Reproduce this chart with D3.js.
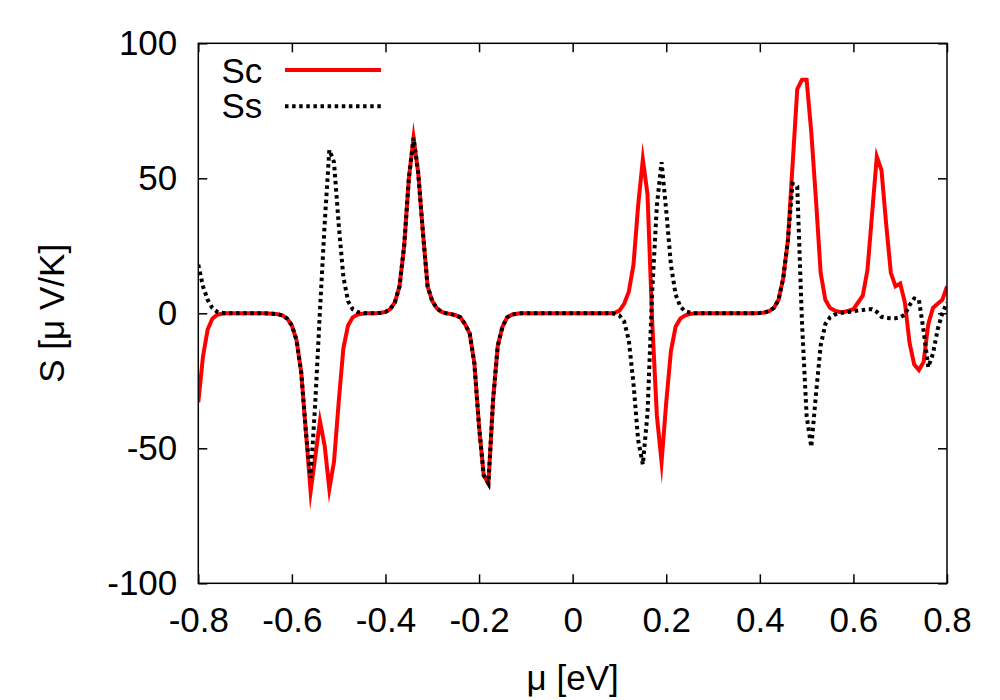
<!DOCTYPE html>
<html>
<head>
<meta charset="utf-8">
<script src="https://cdn.jsdelivr.net/npm/d3@7"></script>
<style>
  html, body { margin: 0; padding: 0; background: #fff; }
  svg { display: block; }
  text { font-family: "Liberation Sans", Arial, Helvetica, sans-serif; }
</style>
</head>
<body>
<svg id="chart" width="1000" height="700"></svg>
<script>
// chemical potential mu [eV]
const mu = [
  -0.80,-0.79,-0.78,-0.77,-0.76,-0.75,-0.74,-0.73,-0.72,-0.71,
  -0.70,-0.69,-0.68,-0.67,-0.66,-0.65,-0.64,-0.63,-0.62,-0.61,
  -0.60,-0.59,-0.58,-0.57,-0.56,-0.55,-0.54,-0.53,-0.52,-0.51,
  -0.50,-0.49,-0.48,-0.47,-0.46,-0.45,-0.44,-0.43,-0.42,-0.41,
  -0.40,-0.39,-0.38,-0.37,-0.36,-0.35,-0.34,-0.33,-0.32,-0.31,
  -0.30,-0.29,-0.28,-0.27,-0.26,-0.25,-0.24,-0.23,-0.22,-0.21,
  -0.20,-0.19,-0.18,-0.17,-0.16,-0.15,-0.14,-0.13,-0.12,-0.11,
  -0.10,-0.09,-0.08,-0.07,-0.06,-0.05,-0.04,-0.03,-0.02,-0.01,
   0.00, 0.01, 0.02, 0.03, 0.04, 0.05, 0.06, 0.07, 0.08, 0.09,
   0.10, 0.11, 0.12, 0.13, 0.14, 0.15, 0.16, 0.17, 0.18, 0.19,
   0.20, 0.21, 0.22, 0.23, 0.24, 0.25, 0.26, 0.27, 0.28, 0.29,
   0.30, 0.31, 0.32, 0.33, 0.34, 0.35, 0.36, 0.37, 0.38, 0.39,
   0.40, 0.41, 0.42, 0.43, 0.44, 0.45, 0.46, 0.47, 0.48, 0.49,
   0.50, 0.51, 0.52, 0.53, 0.54, 0.55, 0.56, 0.57, 0.58, 0.59,
   0.60, 0.61, 0.62, 0.63, 0.64, 0.65, 0.66, 0.67, 0.68, 0.69,
   0.70, 0.71, 0.72, 0.73, 0.74, 0.75, 0.76, 0.77, 0.78, 0.79,
   0.80
];

// Sc series [muV/K]
const Sc = [
  -33,-16,-6,-2,-0.6,-0.2,0,0,0,0,
  0,0,0,0,0,-0.1,-0.2,-0.3,-0.8,-2,
  -4.5,-10,-22,-44,-66,-53,-40,-49,-65,-55,
  -33,-13,-4.5,-1.5,-0.5,-0.2,0,0,0,0.2,
  0.5,1.5,4,10,25,50,65,52,30,10,
  4.5,1.8,0.5,0,-0.3,-0.7,-1.5,-4,-7.5,-18.5,
  -42,-60,-63,-32,-12,-5,-1.5,-0.5,-0.2,0,
  0,0,0,0,0,0,0,0,0,0,
  0,0,0,0,0,0,0,0,0,0.2,
  1,3.5,8,18,40,57,44,-3,-38,-55,
  -33,-14,-5,-2,-0.8,-0.3,0,0,0,0,
  0,0,0,0,0,0,0,0,0,0,
  0.1,0.3,0.8,2,5,13,27,55,83,86.5,
  86.5,67,42,15,5,2,1,0.5,0.5,1,
  1.5,4,6.5,16,37,58,53,33,15,10,
  11,4,-11,-19,-21,-18,-4,2,3.5,5,
  10
];

// Ss series [muV/K]
const Ss = [
  18,10,5,2,0.6,0.2,0,0,0,0,
  0,0,0,0,0,-0.1,-0.2,-0.3,-0.8,-2,
  -4.5,-10,-22,-44,-61,-33,1,33,60.5,56,
  33,13.5,4.5,1.5,0.5,0.2,0,0,0,0.2,
  0.5,1.5,4,10,25,50,65,52,30,10,
  4.5,1.8,0.5,0,-0.3,-0.7,-1.5,-4,-7.5,-18.5,
  -42,-60,-63,-32,-12,-5,-1.5,-0.5,-0.2,0,
  0,0,0,0,0,0,0,0,0,0,
  0,0,0,0,0,0,0,0,0,-0.2,
  -0.8,-3,-10,-26,-47,-56,-37,8,40,56,
  38,18,7,2.5,0.8,0.3,0,0,0,0,
  0,0,0,0,0,0,0,0,0,0,
  0.1,0.3,0.8,2,5,13,27,48,47,-3,
  -38,-49.5,-30,-12,-4,-1.5,-0.5,0,0.3,0.5,
  0.8,1,1.2,1.5,1.5,0.5,-1.3,-1.7,-1.8,-1.8,
  -1.5,-0.5,3,5.5,5,-6.5,-20,-15,-6,0,
  4
];

const xTicks = [-0.8,-0.6,-0.4,-0.2,0,0.2,0.4,0.6,0.8];
const xTickLabels = ["-0.8","-0.6","-0.4","-0.2","0","0.2","0.4","0.6","0.8"];
const yTicks = [-100,-50,0,50,100];
const yTickLabels = ["-100","-50","0","50","100"];
const seriesNames = ["Sc","Ss"];
const xTitle = "μ [eV]";
const yTitle = "S [μ V/K]";

const L = 198.3, R = 947, T = 43.3, B = 583.3;
const FS = 35;

const svg = d3.select("#chart");
svg.append("rect").attr("width",1000).attr("height",700).attr("fill","#fff");

const x = d3.scaleLinear().domain([-0.8,0.8]).range([L,R]);
const y = d3.scaleLinear().domain([-100,100]).range([B,T]);

// axes (inward ticks, mirrored)
const tickLen = 9;
const gB = svg.append("g").attr("transform",`translate(0,${B})`)
  .call(d3.axisBottom(x).tickValues(xTicks).tickFormat((d,i)=>xTickLabels[i]).tickSize(-tickLen).tickPadding(24));
const gT = svg.append("g").attr("transform",`translate(0,${T})`)
  .call(d3.axisTop(x).tickValues(xTicks).tickFormat("").tickSize(-tickLen));
const gL = svg.append("g").attr("transform",`translate(${L},0)`)
  .call(d3.axisLeft(y).tickValues(yTicks).tickFormat((d,i)=>yTickLabels[i]).tickSize(-tickLen).tickPadding(21));
const gR = svg.append("g").attr("transform",`translate(${R},0)`)
  .call(d3.axisRight(y).tickValues(yTicks).tickFormat("").tickSize(-tickLen));

[gB,gT,gL,gR].forEach(g=>{
  g.select(".domain").remove();
  g.selectAll(".tick line").attr("stroke","#000").attr("stroke-width",1.5);
  g.selectAll(".tick text").attr("fill","#000").style("font-size",FS+"px")
    .style("font-family",'"Liberation Sans", Arial, Helvetica, sans-serif');
});

// clip
svg.append("clipPath").attr("id","clip").append("rect")
  .attr("x",L).attr("y",T).attr("width",R-L).attr("height",B-T);

const line = d3.line().x((d,i)=>x(mu[i])).y(d=>y(d));

const plot = svg.append("g").attr("clip-path","url(#clip)");
plot.append("path").datum(Sc).attr("d",line)
  .attr("fill","none").attr("stroke","#ff0000").attr("stroke-width",4)
  .attr("stroke-linejoin","miter").attr("stroke-miterlimit",12);
plot.append("path").datum(Ss).attr("d",line)
  .attr("fill","none").attr("stroke","#000").attr("stroke-width",4)
  .attr("stroke-dasharray","3.5,3.6").attr("stroke-linejoin","miter").attr("stroke-miterlimit",4);

// frame
svg.append("rect").attr("x",L).attr("y",T).attr("width",R-L).attr("height",B-T)
  .attr("fill","none").attr("stroke","#000").attr("stroke-width",1.5);

// legend
const leg = svg.append("g");
const legY = [70, 106.3];
const legBase = [82.8, 118.3];
seriesNames.forEach((n,i)=>{
  leg.append("text").attr("x",221.5).attr("y",legBase[i]).text(n)
    .style("font-size",FS+"px").attr("fill","#000");
  const ln = leg.append("line").attr("x1",285).attr("x2",381).attr("y1",legY[i]).attr("y2",legY[i])
    .attr("stroke-width",4);
  if (i===0) ln.attr("stroke","#ff0000");
  else ln.attr("stroke","#000").attr("stroke-dasharray","3.5,3.6");
});

// axis titles
svg.append("text").attr("x",(L+R)/2).attr("y",690).attr("text-anchor","middle")
  .style("font-size",FS+"px").attr("fill","#000").text(xTitle);
svg.append("text").attr("transform",`translate(64,${(T+B)/2}) rotate(-90)`)
  .attr("text-anchor","middle").style("font-size",FS+"px").attr("fill","#000").text(yTitle);
</script>
</body>
</html>
